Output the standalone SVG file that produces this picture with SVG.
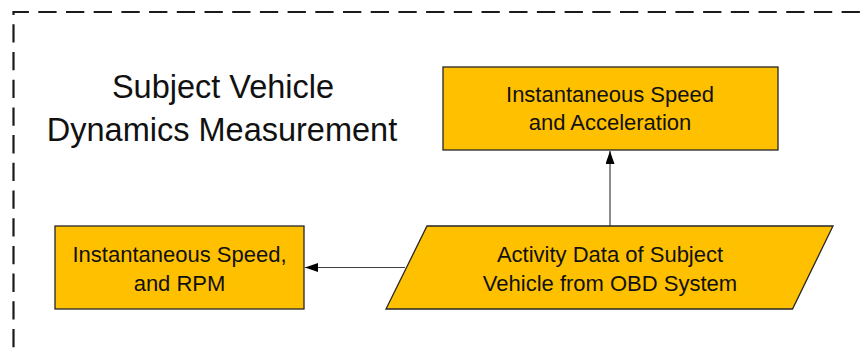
<svg xmlns="http://www.w3.org/2000/svg" width="864" height="356" viewBox="0 0 864 356">
<style>
  .frame { fill: none; stroke: #1a1a1a; stroke-width: 2.2; stroke-dasharray: 18.3 9.4; stroke-dashoffset: 19; }
  .node { fill: #FFC000; stroke: #262626; stroke-width: 1.3; }
  .lbl { font-family: "Liberation Sans", Arial, sans-serif; font-size: 22px; fill: #111; text-anchor: middle; }
  .title { font-family: "Liberation Sans", Arial, sans-serif; font-size: 32.5px; fill: #111; text-anchor: middle; }
  .conn { fill: none; stroke: #404040; stroke-width: 1.2; }
</style>
<defs>
  <marker id="arrow" viewBox="0 0 13 9" refX="13" refY="4.5" markerWidth="13" markerHeight="9" markerUnits="userSpaceOnUse" orient="auto">
    <path d="M0,0 L13,4.5 L0,9 Z" fill="#000"/>
  </marker>
</defs>
<rect width="864" height="356" fill="#fff"/>
<path class="frame" d="M13.5,356 V12 H866"/>
<g id="title">
  <text class="title" x="223" y="98">Subject Vehicle</text>
  <text class="title" x="222" y="141">Dynamics Measurement</text>
</g>
<g id="connectors">
  <path class="conn" d="M610,226 V151" marker-end="url(#arrow)"/>
  <path class="conn" d="M405,267.5 H305" marker-end="url(#arrow)"/>
</g>
<g id="speed-accel">
  <rect class="node" x="443" y="67" width="335" height="83"/>
  <text class="lbl" x="610" y="102">Instantaneous Speed</text>
  <text class="lbl" x="610" y="130">and Acceleration</text>
</g>
<g id="speed-rpm">
  <rect class="node" x="55" y="226" width="249" height="83"/>
  <text class="lbl" x="179.5" y="262">Instantaneous Speed,</text>
  <text class="lbl" x="179.5" y="291">and RPM</text>
</g>
<g id="obd-data">
  <polygon class="node" points="427,226 833,226 792.5,309 386,309"/>
  <text class="lbl" x="610" y="262">Activity Data of Subject</text>
  <text class="lbl" x="610" y="291">Vehicle from OBD System</text>
</g>
</svg>
